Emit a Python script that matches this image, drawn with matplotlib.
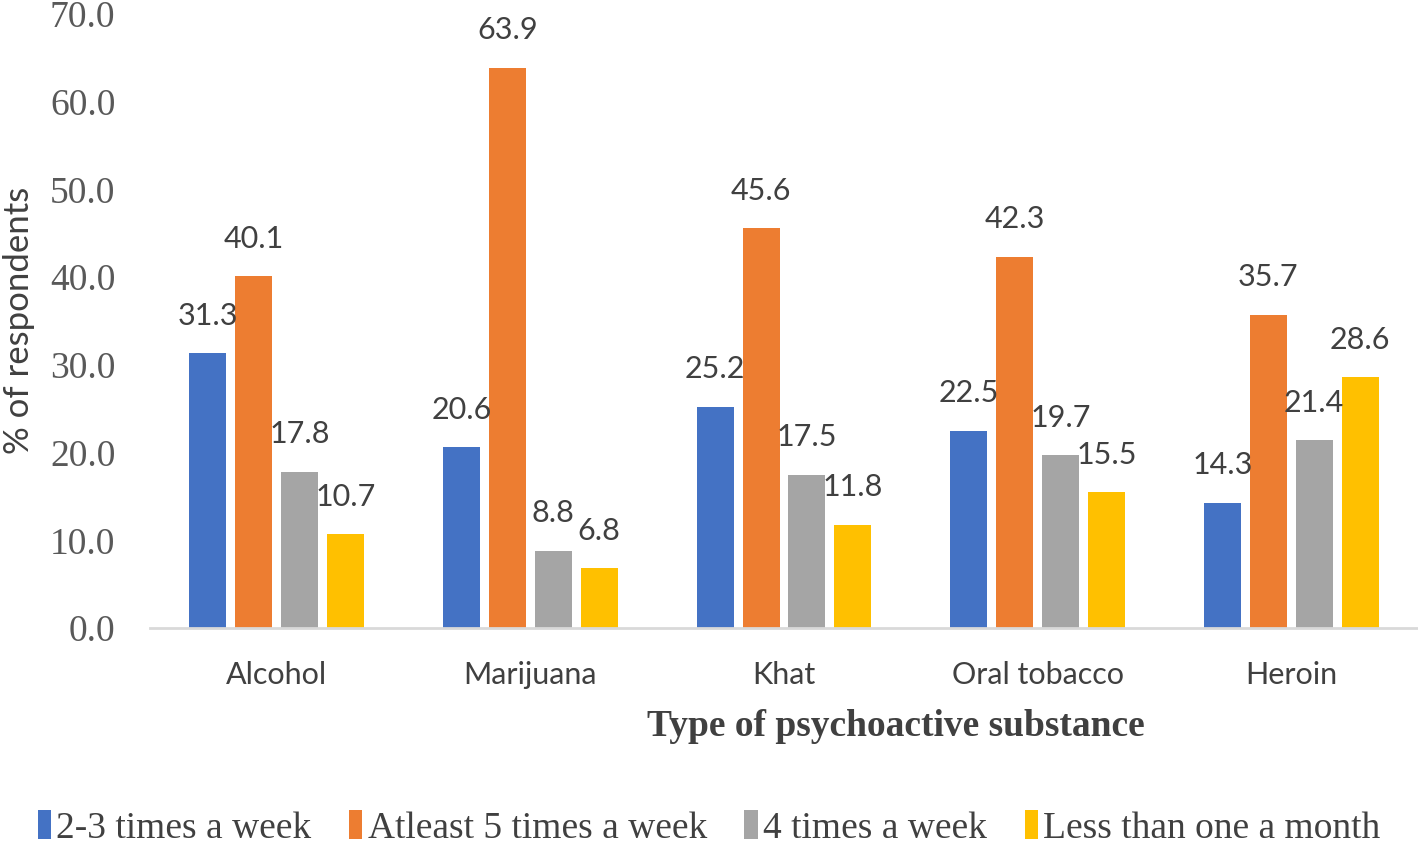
import numpy as np
import matplotlib
matplotlib.use('Agg')
import matplotlib.pyplot as plt

categories = ['Alcohol', 'Marijuana', 'Khat', 'Oral tobacco', 'Heroin']
series_names = ['2-3 times a week', 'Atleast 5 times a week', '4 times a week', 'Less than one a month']
two_three = [31.3, 20.6, 25.2, 22.5, 14.3]
atleast_five = [40.1, 63.9, 45.6, 42.3, 35.7]
four_times = [17.8, 8.8, 17.5, 19.7, 21.4]
less_month = [10.7, 6.8, 11.8, 15.5, 28.6]
y_ticks = [0, 10, 20, 30, 40, 50, 60, 70]

colors = ['#4472C4', '#ED7D31', '#A5A5A5', '#FFC000']
serif = 'Liberation Serif'
sans = 'Lato'

fig = plt.figure(figsize=(14.18, 8.43), dpi=100)
ax = fig.add_axes([0.1058, 0.255, 0.8942, 0.7284])

x = np.arange(len(categories))
pitch = 0.181
width = 0.146
all_series = [two_three, atleast_five, four_times, less_month]
handles = []
for i, vals in enumerate(all_series):
    pos = x + (i - 1.5) * pitch
    b = ax.bar(pos, vals, width=width, color=colors[i], label=series_names[i], zorder=2)
    handles.append(b)
    for px, v in zip(pos, vals):
        ax.annotate(f'{v:.1f}', (px, v), xytext=(0, 27), textcoords='offset points',
                    ha='center', va='center', fontsize=22, family=sans, color='#404040')

ax.set_xlim(-0.5, 4.5)
ax.set_ylim(0, 70)
ax.set_yticks(y_ticks)
ax.set_yticklabels([f'{t:.1f}' for t in y_ticks], family=serif, fontsize=27, color='#595959')
ax.set_xticks(x)
ax.set_xticklabels(categories, family=sans, fontsize=22, color='#404040')
ax.tick_params(axis='both', length=0)
ax.tick_params(axis='x', pad=24)
ax.tick_params(axis='y', pad=25)
for s in ['top', 'right', 'left']:
    ax.spines[s].set_visible(False)
ax.spines['bottom'].set_color('#D9D9D9')
ax.spines['bottom'].set_linewidth(2)

fig.text(19 / 1418, 1 - 320 / 843, '% of respondents', family=sans, fontsize=25,
         color='#404040', rotation=90, ha='center', va='center')
fig.text(0.632, 1 - 727 / 843, 'Type of psychoactive substance', family=serif, fontsize=27,
         fontweight='bold', color='#404040', ha='center', va='center')

leg = fig.legend(handles=handles, labels=series_names, loc='center', ncol=4,
                 bbox_to_anchor=(0.5, 1 - 828 / 843), frameon=False,
                 prop={'family': serif, 'size': 27}, handlelength=0.35, handleheight=0.8,
                 handletextpad=0.15, columnspacing=1.0, labelcolor='#404040',
                 borderpad=0.1)

fig.savefig('out.png', dpi=100)
